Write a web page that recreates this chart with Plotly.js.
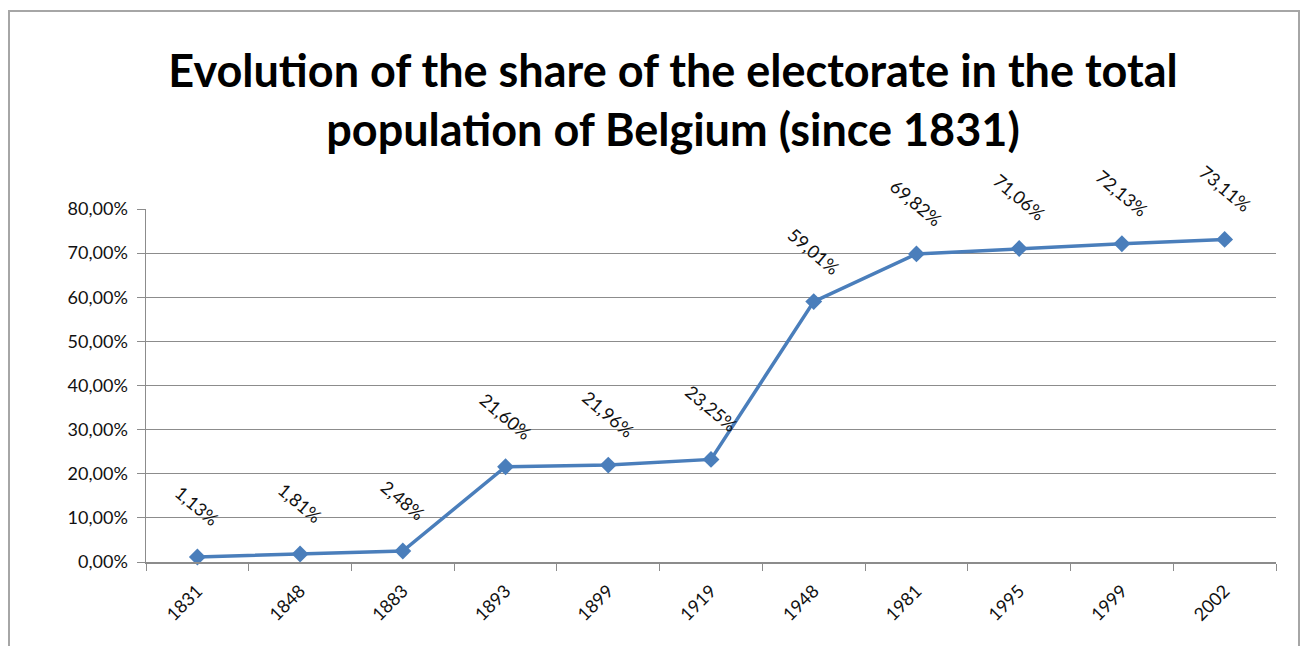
<!DOCTYPE html>
<html>
<head>
<meta charset="utf-8">
<script src="https://cdn.plot.ly/plotly-3.0.1.min.js"></script>
<style>
  html, body { margin: 0; padding: 0; background: #fff; }
  #frame { position: absolute; left: 8px; top: 10px; width: 1292px; height: 700px; border: 2px solid #a6a6a6; box-sizing: border-box; }
  #chart { position: absolute; left: 0; top: 0; width: 1305px; height: 646px; }
</style>
</head>
<body>
<div id="frame"></div>
<div id="chart"></div>
<script>
const years = ["1831","1848","1883","1893","1899","1919","1948","1981","1995","1999","2002"];
const shares = [1.13, 1.81, 2.48, 21.60, 21.96, 23.25, 59.01, 69.82, 71.06, 72.13, 73.11];
const labels = ["1,13%","1,81%","2,48%","21,60%","21,96%","23,25%","59,01%","69,82%","71,06%","72,13%","73,11%"];
const yTicks = [0, 10, 20, 30, 40, 50, 60, 70, 80];
const yTickText = ["0,00%","10,00%","20,00%","30,00%","40,00%","50,00%","60,00%","70,00%","80,00%"];

const font = "Lato, 'Open Sans', sans-serif";

const trace = {
  x: years, y: shares, type: "scatter", mode: "lines+markers",
  line: {color: "#4a7ebb", width: 3.5},
  marker: {symbol: "diamond", size: 13, color: "#4a7ebb"},
  cliponaxis: false, hoverinfo: "skip"
};

const annotations = years.map((yr, i) => ({
  x: i, y: shares[i], xref: "x", yref: "y",
  text: labels[i], showarrow: false, textangle: 40,
  yshift: 51, font: {family: font, size: 18, color: "#111"}
}));

const layout = {
  width: 1305, height: 646,
  paper_bgcolor: "rgba(0,0,0,0)", plot_bgcolor: "rgba(0,0,0,0)",
  margin: {l: 146, r: 29, t: 209, b: 84},
  title: {
    text: "<b>Evolution of the share of the electorate in the total<br>population of Belgium (since 1831)</b>",
    x: 673/1305, xanchor: "center", y: 1 - 87/646, yref: "container", yanchor: "middle",
    font: {family: font, size: 45, color: "#000"}
  },
  xaxis: {
    type: "category", range: [-0.5, 10.5], tickson: "boundaries",
    ticks: "outside", ticklen: 7, tickcolor: "#8c8c8c",
    showline: true, linecolor: "#8c8c8c", linewidth: 1.5,
    showgrid: false, tickangle: -45, ticklabelstandoff: 10,
    tickfont: {family: font, size: 18, color: "#111"}
  },
  yaxis: {
    range: [0, 80], tickmode: "array", tickvals: yTicks, ticktext: yTickText,
    ticks: "outside", ticklen: 8, tickcolor: "#8c8c8c",
    showline: true, linecolor: "#8c8c8c", linewidth: 1.5,
    showgrid: true, gridcolor: "#8c8c8c", gridwidth: 1.2, zeroline: false,
    ticklabelstandoff: 5,
    tickfont: {family: font, size: 18, color: "#111"}
  },
  annotations: annotations,
  showlegend: false
};

Plotly.newPlot("chart", [trace], layout, {displayModeBar: false, staticPlot: true});
</script>
</body>
</html>
